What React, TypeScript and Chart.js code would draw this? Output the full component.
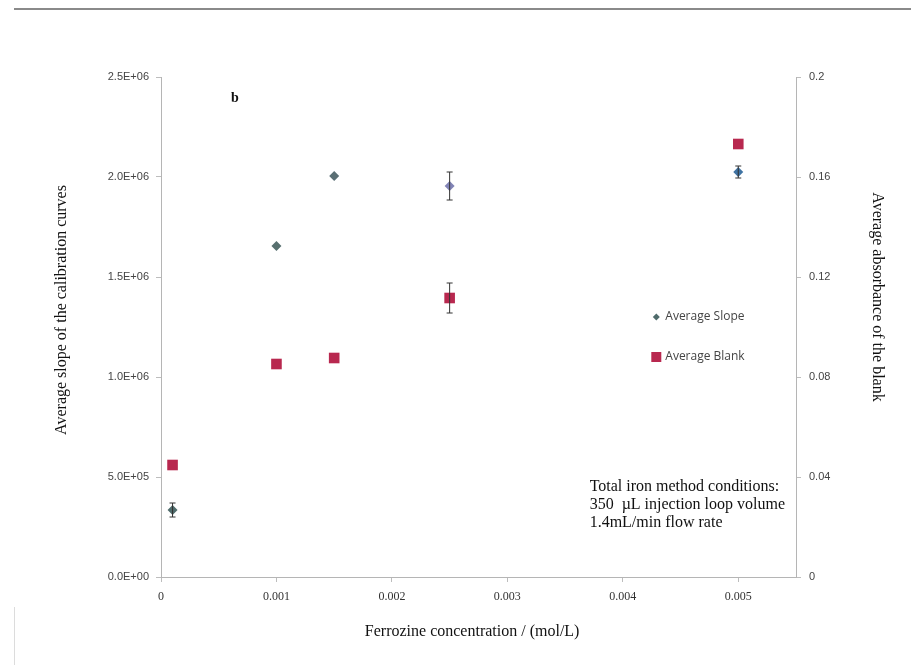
import React, { useEffect, useRef } from "react";
import { Chart, registerables } from "chart.js";

Chart.register(...registerables);

const concentrations = [0.0001, 0.001, 0.0015, 0.0025, 0.005];
const slopeValues = [335000, 1655000, 2005000, 1955000, 2025000];
const slopeErrors = [35000, 0, 0, 70000, 30000];
const blankValues = [0.0448, 0.0852, 0.0876, 0.1116, 0.1732];
const blankErrors = [0, 0, 0, 0.006, 0];
const slopeColors = ["#4f6b6b", "#58706f", "#5a6f74", "#8284b6", "#3f73a3"];

const xTicks = [0, 0.001, 0.002, 0.003, 0.004, 0.005];
const leftTicks = ["0.0E+00", "5.0E+05", "1.0E+06", "1.5E+06", "2.0E+06", "2.5E+06"];
const rightTicks = ["0", "0.04", "0.08", "0.12", "0.16", "0.2"];
const xTitle = "Ferrozine concentration / (mol/L)";
const leftTitle = "Average slope of the calibration curves";
const rightTitle = "Average absorbance of the blank";
const noteLines = [
  "Total iron method conditions:",
  "350  \u00b5L injection loop volume",
  "1.4mL/min flow rate",
];

const errorBarPlugin = {
  id: "errorBars",
  afterDatasetsDraw(chart: any) {
    const ctx = chart.ctx;
    const xs = chart.scales.x;
    const specs = [
      { axis: chart.scales.y, vals: slopeValues, errs: slopeErrors },
      { axis: chart.scales.y2, vals: blankValues, errs: blankErrors },
    ];
    ctx.save();
    ctx.strokeStyle = "#333";
    ctx.lineWidth = 1;
    specs.forEach((s) => {
      s.vals.forEach((v, i) => {
        const e = s.errs[i];
        if (!e) return;
        const px = xs.getPixelForValue(concentrations[i]);
        const top = s.axis.getPixelForValue(v + e);
        const bot = s.axis.getPixelForValue(v - e);
        ctx.beginPath();
        ctx.moveTo(px, top);
        ctx.lineTo(px, bot);
        ctx.moveTo(px - 3, top);
        ctx.lineTo(px + 3, top);
        ctx.moveTo(px - 3, bot);
        ctx.lineTo(px + 3, bot);
        ctx.stroke();
      });
    });
    ctx.restore();
  },
};

const annotationPlugin = {
  id: "annotations",
  afterDraw(chart: any) {
    const ctx = chart.ctx;
    const a = chart.chartArea;
    const h = a.bottom - a.top;
    const w = a.right - a.left;
    ctx.save();
    ctx.textBaseline = "middle";
    // axis titles
    ctx.fillStyle = "#111";
    ctx.font = "16px 'Liberation Serif', serif";
    ctx.textAlign = "center";
    ctx.fillText(xTitle, a.left + 0.49 * w, 632);
    ctx.save();
    ctx.translate(62, a.top + 0.466 * h);
    ctx.rotate(-Math.PI / 2);
    ctx.fillText(leftTitle, 0, 0);
    ctx.restore();
    ctx.save();
    ctx.translate(877, a.top + 0.44 * h);
    ctx.rotate(Math.PI / 2);
    ctx.fillText(rightTitle, 0, 0);
    ctx.restore();
    ctx.textAlign = "left";
    // panel label
    ctx.font = "bold 14px 'Liberation Serif', serif";
    ctx.fillText("b", a.left + 70, a.top + 21);
    // legend
    const lx = a.left + 0.78 * w;
    const ly1 = a.top + 0.48 * h;
    const ly2 = a.top + 0.56 * h;
    ctx.fillStyle = slopeColors[0];
    ctx.beginPath();
    ctx.moveTo(lx, ly1 - 3.5);
    ctx.lineTo(lx + 3.5, ly1);
    ctx.lineTo(lx, ly1 + 3.5);
    ctx.lineTo(lx - 3.5, ly1);
    ctx.closePath();
    ctx.fill();
    ctx.fillStyle = "#b8284f";
    ctx.fillRect(lx - 5, ly2 - 5, 10, 10);
    ctx.fillStyle = "#444";
    ctx.font = "12px 'Open Sans', sans-serif";
    ctx.fillText("Average Slope", lx + 9, ly1);
    ctx.fillText("Average Blank", lx + 9, ly2);
    // note
    ctx.fillStyle = "#111";
    ctx.font = "16px 'Liberation Serif', serif";
    const nx = a.left + 0.675 * w;
    const ny = a.top + 0.82 * h;
    noteLines.forEach((t, i) => ctx.fillText(t, nx, ny + i * 18));
    ctx.restore();
  },
};

export default function App() {
  const ref = useRef<HTMLCanvasElement>(null);
  useEffect(() => {
    if (!ref.current) return;
    const chart = new Chart(ref.current, {
      type: "scatter",
      data: {
        datasets: [
          {
            label: "Average Slope",
            data: concentrations.map((x, i) => ({ x, y: slopeValues[i] })),
            yAxisID: "y",
            pointStyle: "rectRot",
            pointRadius: 5,
            pointBackgroundColor: slopeColors,
            pointBorderColor: slopeColors,
            pointBorderWidth: 0,
          },
          {
            label: "Average Blank",
            data: concentrations.map((x, i) => ({ x, y: blankValues[i] })),
            yAxisID: "y2",
            pointStyle: "rect",
            pointRadius: 7.5,
            pointBackgroundColor: "#b8284f",
            pointBorderColor: "#b8284f",
            pointBorderWidth: 0,
          },
        ],
      },
      plugins: [errorBarPlugin, annotationPlugin],
      options: {
        animation: false,
        responsive: false,
        layout: { padding: { top: 77, left: 0, right: 0, bottom: 0 } },
        plugins: { legend: { display: false }, tooltip: { enabled: false } },
        scales: {
          x: {
            type: "linear",
            min: 0,
            max: 0.0055,
            afterBuildTicks: (s: any) => {
              s.ticks = xTicks.map((v) => ({ value: v }));
            },
            afterFit: (s: any) => {
              s.height = 88;
            },
            grid: {
              drawOnChartArea: false,
              drawTicks: true,
              tickLength: 5,
              color: "#bdbdbd",
            },
            border: { color: "#b5b5b5", width: 1 },
            ticks: {
              color: "#333",
              padding: 8,
              font: { family: "'Liberation Serif', serif", size: 12 },
              callback: (v: any) => (v === 0 ? "0" : Number(v).toFixed(3)),
            },
          },
          y: {
            type: "linear",
            position: "left",
            min: 0,
            max: 2500000,
            afterBuildTicks: (s: any) => {
              s.ticks = leftTicks.map((_, i) => ({ value: i * 500000 }));
            },
            afterFit: (s: any) => {
              s.width = 161;
            },
            grid: { drawOnChartArea: false, tickLength: 5, color: "#bdbdbd" },
            border: { color: "#b5b5b5", width: 1 },
            ticks: {
              color: "#444",
              padding: 7,
              font: { family: "'Liberation Sans', sans-serif", size: 11 },
              callback: (v: any) => leftTicks[Math.round(Number(v) / 500000)],
            },
          },
          y2: {
            type: "linear",
            position: "right",
            min: 0,
            max: 0.2,
            afterBuildTicks: (s: any) => {
              s.ticks = rightTicks.map((_, i) => ({ value: i * 0.04 }));
            },
            afterFit: (s: any) => {
              s.width = 115;
            },
            grid: { drawOnChartArea: false, tickLength: 5, color: "#bdbdbd" },
            border: { color: "#b5b5b5", width: 1 },
            ticks: {
              color: "#444",
              padding: 8,
              font: { family: "'Liberation Sans', sans-serif", size: 11 },
              callback: (v: any) => rightTicks[Math.round(Number(v) / 0.04)],
            },
          },
        },
      },
    } as any);
    return () => chart.destroy();
  }, []);

  return (
    <div style={{ position: "fixed", left: 0, top: 0, width: 911, height: 665, background: "#fff" }}>
      <div style={{ position: "absolute", left: 14, top: 8, width: 897, height: 2, background: "#8a8a8a" }} />
      <div style={{ position: "absolute", left: 14, top: 607, width: 1, height: 58, background: "#dcdcdc" }} />
      <canvas ref={ref} width={911} height={665} style={{ position: "absolute", left: 0, top: 0 }} />
    </div>
  );
}
